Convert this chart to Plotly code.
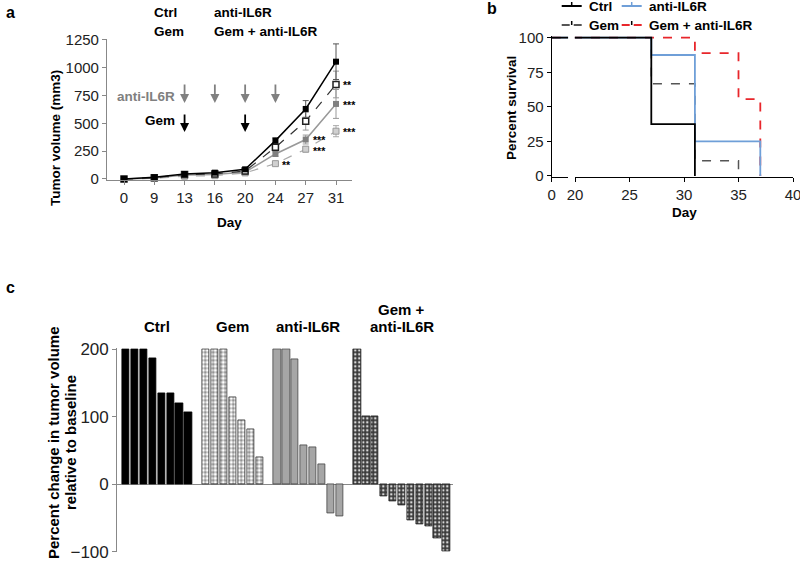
import plotly.graph_objects as go

W, H = 800, 563
FONT = "Arial, Liberation Sans, sans-serif"

# ---------------- Panel a data ----------------
days = ["0", "9", "13", "16", "20", "24", "27", "31"]
ctrl_vol = [0, 15, 45, 57, 87, 345, 630, 1055]
gem_vol = [0, 12, 40, 45, 72, 285, 520, 850]
anti_vol = [0, 10, 35, 40, 62, 225, 355, 675]
combo_vol = [0, 6, 25, 30, 55, 138, 268, 430]
ctrl_err = [2, 4, 8, 8, 12, 25, 75, 160]
gem_err = [2, 4, 6, 6, 10, 25, 80, 120]
anti_err = [2, 3, 5, 6, 10, 20, 40, 130]
combo_err = [2, 3, 4, 5, 8, 15, 25, 50]
antiil6r_dose_days = ["13", "16", "20", "24"]
gem_dose_days = ["13", "20"]
# (series, day, label)
stars = [("gem", "31", "**"), ("anti", "31", "***"), ("combo", "31", "***"),
         ("anti", "27", "***"), ("combo", "27", "***"), ("combo", "24", "**")]

# ---------------- Panel b data ----------------
surv_ctrl_day = [0, 27, 31]
surv_ctrl = [100, 37.5, 0]
surv_anti_day = [0, 27, 31, 37]
surv_anti = [100, 87.5, 25, 0]
surv_gem_day = [0, 27, 31, 35]
surv_gem = [100, 66.7, 11.1, 0]
surv_combo_day = [0, 31, 35, 37]
surv_combo = [100, 88.9, 55.6, 0]

# ---------------- Panel c data ----------------
groups = ["Ctrl", "Gem", "anti-IL6R", "Gem + anti-IL6R"]
wf_ctrl = [200, 200, 200, 186, 134, 134, 119, 106]
wf_gem = [200, 200, 200, 128, 94, 81, 39]
wf_anti = [200, 200, 184, 57, 54, 29, -43, -48]
wf_combo = [200, 100, 100, -18, -25, -32, -54, -59, -63, -80, -100]


def xdom(p0, v0, p1, v1, r0, r1):
    s = (p1 - p0) / (v1 - v0)
    return [(p0 + (r0 - v0) * s) / W, (p0 + (r1 - v0) * s) / W]


def ydom(p0, v0, p1, v1, r0, r1):
    s = (p1 - p0) / (v1 - v0)
    a = p0 + (r0 - v0) * s
    b = p0 + (r1 - v0) * s
    return [1 - a / H, 1 - b / H]


def px(x):
    return x / W


def py(y):
    return 1 - y / H


def text_ann(txt, x, y, size=13.5, color="black", xanchor="center", angle=0, xref="paper", bold=True):
    return dict(x=x, y=y, xref=xref, yref="paper", xanchor=xanchor, yanchor="middle", textangle=angle,
                showarrow=False, text=("<b>" + txt + "</b>") if bold else txt,
                font=dict(size=size, color=color, family=FONT))


fig = go.Figure()

# ---------------- Panel a ----------------
idx = list(range(len(days)))
ax_r = [-0.56, 7.52]
ay_r = [-12, 1262]
series_a = {
    "ctrl": (ctrl_vol, ctrl_err, dict(color="black", width=1.5), dict(symbol="square", size=6, color="black"), "#555"),
    "gem": (gem_vol, gem_err, dict(color="#333", width=1.2, dash="dash"),
            dict(symbol="square", size=6, color="white", line=dict(color="#222", width=1.5)), "#999"),
    "anti": (anti_vol, anti_err, dict(color="#999", width=1.5), dict(symbol="square", size=6, color="#808080"), "#999"),
    "combo": (combo_vol, combo_err, dict(color="#aaa", width=1.2, dash="dash"),
              dict(symbol="square", size=6, color="#d0d0d0", line=dict(color="#999", width=1)), "#aaa"),
}
for key in ["combo", "anti", "gem", "ctrl"]:
    v, e, ln, mk, ec = series_a[key]
    fig.add_trace(go.Scatter(x=idx, y=v, mode="lines+markers", line=ln, marker=mk,
                             error_y=dict(type="data", array=e, color=ec, thickness=1, width=3),
                             xaxis="x", yaxis="y", cliponaxis=False, hoverinfo="skip"))

ann = []
for d in antiil6r_dose_days:
    i = days.index(d)
    ann.append(dict(x=i, y=683, ax=i, ay=863, xref="x", yref="y", axref="x", ayref="y",
                    showarrow=True, arrowhead=2, arrowsize=1, arrowwidth=1.8, arrowcolor="#808080", text=""))
for d in gem_dose_days:
    i = days.index(d)
    ann.append(dict(x=i, y=422, ax=i, ay=593, xref="x", yref="y", axref="x", ayref="y",
                    showarrow=True, arrowhead=2, arrowsize=1, arrowwidth=1.8, arrowcolor="black", text=""))
ann.append(dict(x=1.75, y=746, xref="x", yref="y", xanchor="right", yanchor="middle", showarrow=False,
                text="<b>anti-IL6R</b>", font=dict(size=13.5, color="#808080", family=FONT)))
ann.append(dict(x=1.75, y=530, xref="x", yref="y", xanchor="right", yanchor="middle", showarrow=False,
                text="<b>Gem</b>", font=dict(size=13.5, color="black", family=FONT)))
star_shift = {("anti", "27"): 0, ("combo", "27"): -2}
for key, d, s in stars:
    i = days.index(d)
    ann.append(dict(x=i, y=series_a[key][0][i], xref="x", yref="y", xanchor="left", yanchor="middle",
                    xshift=5, yshift=star_shift.get((key, d), -1), showarrow=False, text="<b>" + s + "</b>",
                    font=dict(size=10.5, color="black", family=FONT)))

# panel a legend (text only)
for txt, x, y in [("Ctrl", 152, 12), ("Gem", 152, 31), ("anti-IL6R", 212, 12), ("Gem + anti-IL6R", 212, 31)]:
    ann.append(text_ann(txt, px(x), py(y), xanchor="left"))
ann.append(text_ann("Tumor volume (mm3)", px(55), py(138), angle=-90))
ann.append(text_ann("Day", px(230), py(222)))

# ---------------- Panel b ----------------
by_r = [-1, 101.5]
b_series = [
    (surv_gem_day, surv_gem, dict(color="#555", width=1.5, dash="dash", shape="hv")),
    (surv_combo_day, surv_combo, dict(color="#e8262b", width=1.8, dash="dash", shape="hv")),
    (surv_anti_day, surv_anti, dict(color="#6f9fd8", width=1.8, shape="hv")),
    (surv_ctrl_day, surv_ctrl, dict(color="black", width=1.8, shape="hv")),
]
for xa in ["x3", "x4"]:
    for dx, dy, ln in b_series:
        fig.add_trace(go.Scatter(x=dx, y=dy, mode="lines", line=ln, xaxis=xa, yaxis="y3", hoverinfo="skip"))

# legend for panel b
shapes = []
leg_b = [("Ctrl", "black", None, 561.7, 6), ("anti-IL6R", "#6f9fd8", None, 621.7, 6),
         ("Gem", "#555", "dash", 561.7, 25), ("Gem + anti-IL6R", "#e8262b", "dash", 621.7, 25)]
for txt, col, dash, x, y in leg_b:
    if dash:
        shapes.append(dict(type="line", xref="paper", yref="paper", x0=px(x), x1=px(x + 8), y0=py(y), y1=py(y),
                           line=dict(color=col, width=2)))
        shapes.append(dict(type="line", xref="paper", yref="paper", x0=px(x + 12), x1=px(x + 20), y0=py(y), y1=py(y),
                           line=dict(color=col, width=2)))
    else:
        shapes.append(dict(type="line", xref="paper", yref="paper", x0=px(x), x1=px(x + 20), y0=py(y), y1=py(y),
                           line=dict(color=col, width=2)))
    shapes.append(dict(type="line", xref="paper", yref="paper", x0=px(x + 10), x1=px(x + 10), y0=py(y), y1=py(y - 4),
                       line=dict(color=col if dash is None else "black", width=1.5)))
    ann.append(text_ann(txt, px(x + 25), py(y), xanchor="left"))
ann.append(text_ann("Percent survival", px(512), py(108), angle=-90))
ann.append(text_ann("Day", px(684), py(212)))

# ---------------- Panel c ----------------
gap = 1
wf_all = [wf_ctrl, wf_gem, wf_anti, wf_combo]
styles = [
    dict(color="black", line=dict(color="black", width=0.8)),
    dict(color="#888", line=dict(color="#333", width=0.8),
         pattern=dict(shape=".", fgcolor="#ffffff", bgcolor="#8a8a8a", size=4, solidity=0.55)),
    dict(color="#a6a6a6", line=dict(color="#444", width=0.8)),
    dict(color="#444", line=dict(color="#222", width=0.8),
         pattern=dict(shape=".", fgcolor="#d8d8d8", bgcolor="#3a3a3a", size=4, solidity=0.3)),
]
slot = 0
centers = []
for vals, st in zip(wf_all, styles):
    xs = list(range(slot, slot + len(vals)))
    centers.append((xs[0] + xs[-1]) / 2)
    fig.add_trace(go.Bar(x=xs, y=vals, width=0.82, marker=st, xaxis="x5", yaxis="y5", hoverinfo="skip"))
    slot += len(vals) + gap
cx_r = [-0.98, slot - gap - 1 + 0.75]

label_rows = {"Gem + anti-IL6R": [("Gem +", 309.3), ("anti-IL6R", 326.7)]}
for g, c in zip(groups, centers):
    for txt, y in label_rows.get(g, [(g, 326.7)]):
        ann.append(text_ann(txt, c, py(y), size=15, xref="x5"))
ann.append(text_ann("Percent change in tumor volume", px(53), py(443), size=15, angle=-90))
ann.append(text_ann("relative to baseline", px(70), py(443), size=15, angle=-90))

# panel letters
for t, x, y in [("a", 10, 12), ("b", 491.7, 8), ("c", 10, 287)]:
    ann.append(text_ann(t, px(x), py(y), size=16))

tickfont_a = dict(size=15, color="#222", family=FONT)
common = dict(showgrid=False, automargin=False, ticks="outside", ticklen=4, showline=True, linewidth=1.2,
              ticklabeloverflow="allow")
bx_r = [19.99, 40.01]
fig.update_layout(
    template="none",
    width=W, height=H, margin=dict(l=0, r=0, t=0, b=0, pad=0, autoexpand=False),
    paper_bgcolor="white", plot_bgcolor="white", showlegend=False, bargap=0,
    font=dict(family=FONT),
    xaxis=dict(domain=xdom(124, 0, 336, 7, *ax_r), range=ax_r, tickvals=idx, ticktext=days,
               linecolor="#888", tickcolor="#888", zeroline=False, tickfont=tickfont_a, anchor="y", **common),
    yaxis=dict(domain=ydom(179, 0, 40, 1250, *ay_r), range=ay_r, tickvals=[0, 250, 500, 750, 1000, 1250],
               linecolor="#888", tickcolor="#888", zeroline=False, tickfont=tickfont_a, anchor="x", **common),
    xaxis3=dict(domain=xdom(551.7, 0, 793, 22.12, 0, 1.5), range=[0, 1.5], tickvals=[0],
                linecolor="black", tickcolor="black", zeroline=False,
                tickfont=dict(size=15, color="#222", family=FONT), anchor="y3", **common),
    xaxis4=dict(domain=xdom(575, 20, 793, 40, *bx_r), range=bx_r, tickvals=[20, 25, 30, 35, 40],
                linecolor="black", tickcolor="black", zeroline=False,
                tickfont=dict(size=15, color="#222", family=FONT), anchor="y3", **common),
    yaxis3=dict(domain=ydom(176, 0, 37.7, 100, *by_r), range=by_r, tickvals=[0, 25, 50, 75, 100],
                linecolor="black", tickcolor="black", zeroline=False,
                tickfont=dict(size=15, color="#222", family=FONT), anchor="x3", **common),
    xaxis5=dict(domain=xdom(126, 0, 446.3, 36, *cx_r), range=cx_r, visible=False, anchor="y5", automargin=False),
    yaxis5=dict(domain=ydom(551.7, -100, 349, 200, -101, 201), range=[-101, 201], tickvals=[-100, 0, 100, 200],
                linecolor="#888", tickcolor="#888",
                zeroline=True, zerolinecolor="#888", zerolinewidth=1.2,
                tickfont=dict(size=17, color="#222", family=FONT), anchor="x5", **common),
    annotations=ann, shapes=shapes,
)

fig.write_html("out.html", config={"displayModeBar": False},
               post_script="document.body.style.margin='0';document.body.style.padding='0';"
                           "document.documentElement.style.overflow='hidden';")
